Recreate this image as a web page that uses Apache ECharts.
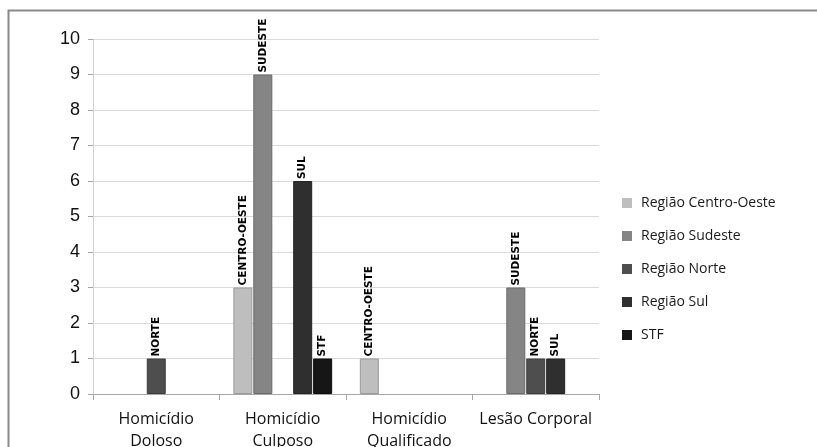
<!DOCTYPE html>
<html>
<head>
<meta charset="utf-8">
<style>
  html, body { margin: 0; padding: 0; background: #ffffff; }
  #chart { width: 817px; height: 447px; }
</style>
<script src="https://cdn.jsdelivr.net/npm/echarts@6/dist/echarts.min.js"></script>
</head>
<body>
<div id="chart"></div>
<script>
// Crime categories on the x axis
const categories = ['Homicídio\nDoloso', 'Homicídio\nCulposo', 'Homicídio\nQualificado', 'Lesão Corporal'];

// Series (legend names, bar tags, fills)
const seriesNames = ['Região Centro-Oeste', 'Região Sudeste', 'Região Norte', 'Região Sul', 'STF'];
const seriesTags = ['CENTRO-OESTE', 'SUDESTE', 'NORTE', 'SUL', 'STF'];

// Counts per category (null = no bar)
const centroOeste = [null, 3, 1, null];
const sudeste = [null, 9, null, 3];
const norte = [1, null, null, 1];
const sul = [null, 6, null, 1];
const stf = [null, 1, null, null];
const seriesValues = [centroOeste, sudeste, norte, sul, stf];

// Y axis ticks
const yTicks = [0, 1, 2, 3, 4, 5, 6, 7, 8, 9, 10];

const fills = ['#bebebe', '#858585', '#4e4e4e', '#2f2f2f', '#161616'];
const borders = ['#9a9a9a', '#6a6a6a', '#3c3c3c', '#222222', '#0c0c0c'];

const chart = echarts.init(document.getElementById('chart'), null, { renderer: 'canvas' });

const series = seriesNames.map((name, i) => ({
  name: name,
  type: 'bar',
  data: seriesValues[i],
  barWidth: 19,
  barGap: '5%',
  itemStyle: { color: fills[i], borderColor: borders[i], borderWidth: 1 },
  label: {
    show: true,
    position: 'top',
    rotate: 90,
    align: 'left',
    verticalAlign: 'middle',
    distance: 2,
    formatter: () => seriesTags[i],
    fontFamily: 'DejaVu Sans',
    fontWeight: 'bold',
    fontSize: 10.5,
    color: '#000000'
  },
  emphasis: { disabled: true }
}));

chart.setOption({
  animation: false,
  backgroundColor: '#ffffff',
  grid: { left: 93, right: 218, top: 39, bottom: 53, containLabel: false, outerBoundsMode: 'none' },
  legend: {
    orient: 'vertical',
    left: 622,
    top: 196,
    padding: 0,
    itemWidth: 10,
    itemHeight: 10,
    itemGap: 19,
    icon: 'rect',
    data: seriesNames,
    textStyle: { fontFamily: 'Open Sans', fontSize: 14, color: '#1a1a1a', padding: [0, 0, 0, 4] },
    itemStyle: { borderWidth: 0 }
  },
  xAxis: {
    type: 'category',
    data: categories,
    axisLine: { lineStyle: { color: '#a6a6a6', width: 1 } },
    axisTick: { show: true, length: 6, lineStyle: { color: '#a6a6a6' } },
    axisLabel: {
      interval: 0,
      fontFamily: 'Open Sans',
      fontSize: 16,
      color: '#111111',
      lineHeight: 22,
      margin: 14
    }
  },
  yAxis: {
    type: 'value',
    min: yTicks[0],
    max: yTicks[yTicks.length - 1],
    interval: 1,
    axisLine: { show: true, lineStyle: { color: '#d0d0d0', width: 1 } },
    axisTick: { show: true, length: 5, lineStyle: { color: '#a6a6a6' } },
    axisLabel: {
      fontFamily: 'Liberation Sans',
      fontSize: 18,
      color: '#111111',
      margin: 13
    },
    splitLine: { lineStyle: { color: '#d9d9d9', width: 1 } }
  },
  graphic: [
    {
      type: 'polyline',
      shape: { points: [[8.5, 447], [8.5, 10.5], [817, 10.5]] },
      style: { stroke: '#8a8a8a', lineWidth: 2, fill: null },
      silent: true
    }
  ],
  series: series
});
</script>
</body>
</html>
